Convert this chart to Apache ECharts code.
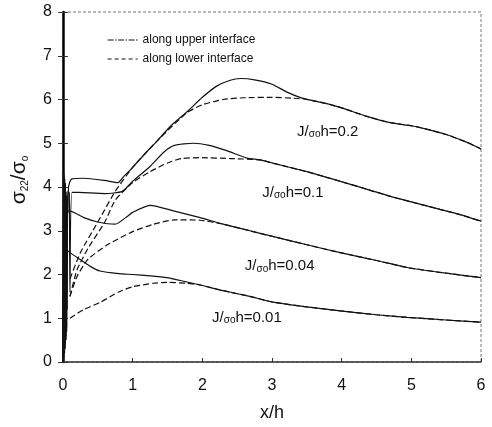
<!DOCTYPE html>
<html>
<head>
<meta charset="utf-8">
<script src="https://cdn.jsdelivr.net/npm/echarts@6/dist/echarts.min.js"></script>
<style>
  html, body { margin: 0; padding: 0; background: #fff; }
  #chart { width: 492px; height: 427px; }
</style>
</head>
<body>
<div id="chart"></div>
<script>
// Normal stress sigma22/sigma0 against x/h, for four load levels J/(sigma0 h).
const loadLevels = ['0.2', '0.1', '0.04', '0.01'];
const xTicks = [0, 1, 2, 3, 4, 5, 6];
const yTicks = [0, 1, 2, 3, 4, 5, 6, 7, 8];
const legendNames = ['along upper interface', 'along lower interface'];

// Along the upper interface: [x/h, sigma22/sigma0]
const upper02 = [[0,0.1],[0.005,4.35],[0.01,0.2],[0.015,4.3],[0.02,0.3],[0.025,4.2],[0.03,0.4],[0.035,4.1],[0.04,0.5],[0.045,3.9],[0.05,0.8],[0.055,3.8],[0.06,1.2],[0.065,3.6],[0.07,3.4],[0.08,4.0],[0.12,4.18],[0.3,4.2],[0.6,4.15],[0.79,4.1],[0.86,4.22],[1.0,4.45],[1.2,4.8],[1.35,5.05],[1.55,5.4],[1.78,5.72],[2.0,6.05],[2.2,6.3],[2.4,6.44],[2.55,6.48],[2.75,6.45],[3.0,6.35],[3.2,6.18],[3.4,6.05],[3.6,5.97],[3.8,5.9],[4.0,5.81],[4.35,5.62],[4.7,5.47],[5.0,5.4],[5.2,5.33],[5.5,5.2],[5.8,5.02],[6.0,4.87]];
const upper01 = [[0,0.3],[0.007,3.8],[0.012,0.1],[0.018,3.7],[0.023,0.2],[0.028,3.6],[0.033,0.3],[0.038,3.5],[0.043,0.5],[0.048,3.4],[0.053,0.7],[0.058,3.3],[0.07,3.9],[0.09,3.87],[0.1,1.6],[0.13,3.88],[0.3,3.87],[0.6,3.85],[0.85,3.9],[1.0,4.13],[1.25,4.47],[1.45,4.8],[1.6,4.95],[1.87,5.0],[2.1,4.95],[2.35,4.83],[2.64,4.66],[2.83,4.62],[3.0,4.55],[3.5,4.35],[3.98,4.13],[4.4,3.93],[4.69,3.79],[5.0,3.66],[5.41,3.49],[5.7,3.37],[6.0,3.22]];
const upper004 = [[0,0],[0.014,3.5],[0.028,0.4],[0.042,3.3],[0.052,0.8],[0.062,3.45],[0.1,3.45],[0.3,3.3],[0.5,3.2],[0.75,3.15],[0.9,3.3],[1.0,3.42],[1.25,3.58],[1.6,3.45],[1.97,3.3],[2.3,3.15],[2.68,3.0],[3.01,2.87],[3.5,2.68],[3.98,2.5],[4.5,2.32],[4.94,2.16],[5.5,2.03],[6.0,1.93]];
const upper001 = [[0,0],[0.01,2.65],[0.02,0.2],[0.03,2.6],[0.045,0.6],[0.06,2.55],[0.1,2.5],[0.24,2.35],[0.4,2.18],[0.53,2.08],[0.8,2.02],[1.0,2.0],[1.25,1.97],[1.49,1.93],[1.75,1.84],[1.97,1.76],[2.3,1.63],[2.68,1.5],[3.01,1.37],[3.5,1.26],[3.98,1.17],[4.5,1.08],[4.94,1.02],[5.5,0.96],[6.0,0.91]];

// Along the lower interface: [x/h, sigma22/sigma0]
const lower02 = [[0.1,1.9],[0.25,2.5],[0.5,3.2],[0.75,3.9],[1.0,4.45],[1.35,5.05],[1.78,5.7],[2.0,5.88],[2.3,6.0],[2.6,6.04],[3.0,6.05],[3.3,6.03],[3.5,6.0],[3.75,5.92],[4.0,5.81],[4.35,5.62],[4.7,5.47],[5.0,5.4],[5.2,5.33],[5.5,5.2],[5.8,5.02],[6.0,4.87]];
const lower01 = [[0.1,1.5],[0.2,2.1],[0.36,2.6],[0.6,3.2],[0.75,3.7],[1.0,4.1],[1.25,4.35],[1.5,4.55],[1.7,4.65],[2.0,4.67],[2.4,4.65],[2.83,4.62],[3.0,4.55],[3.5,4.35],[3.98,4.13],[4.4,3.93],[4.69,3.79],[5.0,3.66],[5.41,3.49],[5.7,3.37],[6.0,3.22]];
const lower004 = [[0.1,1.5],[0.2,1.95],[0.36,2.35],[0.65,2.69],[1.0,2.98],[1.3,3.15],[1.6,3.25],[1.97,3.24],[2.3,3.15],[2.68,3.0],[3.01,2.87],[3.5,2.68],[3.98,2.5],[4.5,2.32],[4.94,2.16],[5.5,2.03],[6.0,1.93]];
const lower001 = [[0.1,1.0],[0.3,1.2],[0.53,1.36],[0.8,1.6],[1.0,1.72],[1.3,1.8],[1.5,1.82],[1.78,1.8],[1.97,1.76],[2.3,1.63],[2.68,1.5],[3.01,1.37],[3.5,1.26],[3.98,1.17],[4.5,1.08],[4.94,1.02],[5.5,0.96],[6.0,0.91]];

const upperSets = [upper02, upper01, upper004, upper001];
const lowerSets = [lower02, lower01, lower004, lower001];

const FONT = '"Liberation Sans", Arial, sans-serif';
const INK = '#111';

// Where each load-level caption sits, in axis units
const captionAnchors = [[3.36, 5.27], [2.86, 3.88], [2.61, 2.2], [2.14, 1.03]];

const captionRich = {
  a: { fontFamily: FONT, fontSize: 15, color: INK, verticalAlign: 'bottom', lineHeight: 16 },
  b: { fontFamily: FONT, fontSize: 10, color: INK, verticalAlign: 'bottom', lineHeight: 13 }
};

const series = [];
upperSets.forEach((pts, i) => {
  series.push({
    name: legendNames[0],
    type: 'line',
    data: pts,
    symbol: 'none',
    smooth: 0.2,
    color: INK,
    itemStyle: { color: INK },
    lineStyle: { color: INK, width: 1.2, type: 'solid' },
    z: 3,
    markPoint: {
      symbol: 'circle',
      symbolSize: 0,
      silent: true,
      data: [{
        coord: captionAnchors[i],
        label: {
          show: true,
          position: 'right',
          distance: 0,
          formatter: '{a|J/}{b|σo}{a|h=' + loadLevels[i] + '}',
          rich: captionRich
        }
      }]
    }
  });
});
lowerSets.forEach((pts) => {
  series.push({
    name: legendNames[1],
    type: 'line',
    data: pts,
    symbol: 'none',
    smooth: 0.2,
    color: INK,
    itemStyle: { color: INK },
    lineStyle: { color: INK, width: 1.2, type: [6, 3] },
    z: 2
  });
});

const chart = echarts.init(document.getElementById('chart'), null, { renderer: 'canvas' });

chart.setOption({
  animation: false,
  backgroundColor: '#fff',
  grid: {
    left: 63, right: 11, top: 12, bottom: 64,
    show: true,
    borderColor: '#777',
    borderWidth: 1,
    borderType: [3, 2]
  },
  legend: {
    orient: 'vertical',
    left: 102,
    top: 29,
    itemWidth: 30,
    itemHeight: 12,
    itemGap: 7,
    itemStyle: { opacity: 0 },
    textStyle: { fontFamily: FONT, fontSize: 12, color: INK },
    data: [
      { name: legendNames[0], itemStyle: { opacity: 0 }, lineStyle: { type: [6, 1.5, 1.5, 1.5], width: 1, color: INK } },
      { name: legendNames[1], itemStyle: { opacity: 0 }, lineStyle: { type: [4, 3], width: 1.2, color: INK } }
    ]
  },
  xAxis: {
    type: 'value',
    min: xTicks[0],
    max: xTicks[xTicks.length - 1],
    interval: 1,
    name: 'x/h',
    nameLocation: 'middle',
    nameGap: 42,
    nameTextStyle: { fontFamily: FONT, fontSize: 18, color: INK },
    axisLine: { show: true, onZero: false, lineStyle: { color: '#333', width: 1.5 } },
    axisTick: { show: true, inside: true, length: 4, lineStyle: { color: '#333' } },
    axisLabel: { fontFamily: FONT, fontSize: 16, color: INK, margin: 16 },
    splitLine: { show: false }
  },
  yAxis: [{
    type: 'value',
    min: yTicks[0],
    max: yTicks[yTicks.length - 1],
    interval: 1,
    name: '{s|σ}{t|22}{s|/σ}{t|o}',
    nameLocation: 'middle',
    nameGap: 33,
    nameTextStyle: {
      padding: [0, 0, 0, 14],
      rich: {
        s: { fontFamily: FONT, fontSize: 21, color: INK, verticalAlign: 'bottom', lineHeight: 22 },
        t: { fontFamily: FONT, fontSize: 10, color: INK, verticalAlign: 'bottom', lineHeight: 17 }
      }
    },
    axisLine: { show: true, onZero: false, lineStyle: { color: '#000', width: 2.5 } },
    axisTick: { show: true, inside: false, length: 5, lineStyle: { color: '#333' } },
    axisLabel: { fontFamily: FONT, fontSize: 16, color: INK, margin: 11 },
    splitLine: { show: false }
  }, {
    // Second copy of the left axis so that the tick marks cross the axis line
    type: 'value',
    position: 'left',
    min: yTicks[0],
    max: yTicks[yTicks.length - 1],
    interval: 1,
    axisLine: { show: false },
    axisTick: { show: true, inside: true, length: 5, lineStyle: { color: '#333' } },
    axisLabel: { show: false },
    splitLine: { show: false }
  }],
  series: series
});
</script>
</body>
</html>
